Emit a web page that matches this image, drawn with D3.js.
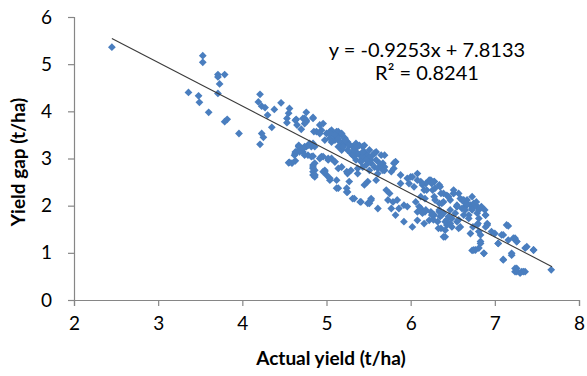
<!DOCTYPE html>
<html>
<head>
<meta charset="utf-8">
<script src="https://cdn.jsdelivr.net/npm/d3@7"></script>
<style>
  html, body { margin: 0; padding: 0; background: #fff; }
  svg { display: block; }
</style>
</head>
<body>
<svg id="chart" width="587" height="376"></svg>
<script>
// ---- data ----
const xTicks = [2, 3, 4, 5, 6, 7, 8];
const yTicks = [0, 1, 2, 3, 4, 5, 6];
const xLabel = "Actual yield (t/ha)";
const yLabel = "Yield gap (t/ha)";
const slope = -0.9253;
const intercept = 7.8133;
const trendRange = [2.45, 7.68];
const equationText = "y = -0.9253x + 7.8133";
const r2Text = "R² = 0.8241";

const actualYield = [
  2.45, 3.53, 3.53, 3.71, 3.71, 3.79, 3.73, 3.36, 3.48, 3.49, 3.71, 3.60, 3.79, 3.82,
  4.21, 4.19, 4.23, 4.27, 4.30, 4.46, 4.38, 4.35, 3.96, 4.21, 4.23, 4.25,
  4.56, 4.55, 4.53, 4.53, 4.64, 4.76, 4.74, 4.76, 4.74, 4.84, 4.70, 4.85,
  4.67, 4.63, 4.62, 4.76, 4.82, 4.84, 4.72, 4.56, 4.63, 4.70, 4.74,
  4.72, 4.76, 4.84, 4.63, 4.65, 4.92, 4.96, 4.88, 4.94, 4.92,
  5.04, 5.08, 5.14, 5.18, 5.04, 5.10, 5.16, 5.22, 5.20, 5.26,
  5.29, 5.33, 5.39, 5.35, 5.41, 5.45, 5.49, 5.47, 5.53, 5.43, 5.57, 5.51, 5.61, 5.59, 5.67, 5.65, 5.69,
  4.59, 4.63, 4.67, 4.72, 4.78, 4.84, 4.74, 4.82, 4.84, 4.86, 4.84, 4.94, 4.96, 5.00, 5.04,
  5.02, 5.06, 5.10, 5.14, 5.12, 5.14, 5.24, 5.25, 5.27, 5.33, 5.41, 5.49, 5.53, 5.61, 5.45,
  5.37, 5.25, 5.49, 5.59, 4.55, 4.86, 4.98, 5.04, 5.12, 5.24, 5.31, 5.40, 5.51,
  5.57, 5.65, 5.53, 5.63, 5.69, 5.61, 5.67, 5.82, 5.80, 5.77, 5.88, 5.96, 6.08, 6.00, 5.88,
  5.98, 6.04, 6.12, 6.18, 6.22, 6.28, 6.34, 6.16, 6.26, 6.36, 6.28, 6.43, 6.51, 6.47, 6.39,
  6.55, 6.61, 6.65,
  5.53, 5.71, 5.75, 5.73, 5.79, 5.84, 5.77, 5.86, 5.92, 5.96, 5.82, 5.92, 6.02, 6.08, 6.12,
  6.18, 6.24, 6.08, 6.16, 6.22, 6.28, 6.34, 6.39, 6.45, 6.32, 6.36, 6.43, 6.41, 6.55, 6.59,
  6.53, 6.63,
  6.34, 6.34, 6.37, 6.43, 6.41, 6.39, 6.49, 6.47, 6.55, 6.61, 6.65, 6.71, 6.73, 6.77, 6.79,
  6.69, 6.81, 6.89, 6.91, 6.79, 6.81, 6.83, 6.89, 6.96, 7.00, 7.04, 7.14, 7.08, 7.16, 7.22,
  7.26, 6.83, 6.77, 6.73, 6.87, 7.20, 7.10, 7.36, 7.46, 7.26, 7.24, 7.32, 7.36, 7.67,
  4.67, 4.84, 4.84, 4.86, 5.80, 5.82, 5.59, 5.69, 6.24, 6.28,
  6.51, 6.59, 6.67, 6.75, 6.79, 6.81, 6.89, 6.91, 6.71, 6.83, 6.81, 6.75, 6.87,
  7.16, 7.10, 7.04, 7.24, 7.26, 7.38, 7.46, 7.20, 7.10, 7.24, 7.26, 7.34, 7.30,
  5.00, 5.06, 5.12, 5.14, 5.18, 5.22, 5.25, 5.31, 5.35, 5.39, 5.43, 5.45, 5.49, 5.53, 5.43,
  5.37, 5.31, 5.25, 5.18, 5.14,
  6.02, 6.08, 6.14, 6.19, 6.25, 6.29, 6.35, 6.39, 6.45, 6.51, 6.57, 6.63, 6.67, 6.73, 6.78,
  6.84, 6.88, 6.73, 6.65, 6.55, 6.47, 6.37, 6.29, 6.17, 6.12, 6.06, 6.10, 6.17, 6.25, 6.35,
  6.41, 6.49, 6.57, 6.69, 6.74, 6.80, 6.57, 6.33, 6.27, 6.14,
  4.67, 4.72, 4.68, 4.63, 4.80, 4.86, 4.78, 4.98, 5.04, 5.10, 5.06, 5.14, 5.22, 5.20, 5.27,
  5.33, 5.37, 5.43, 5.45, 5.51, 5.57, 5.47, 5.41, 5.37, 5.29, 5.24, 5.18, 5.10, 5.02, 4.96,
  4.92, 4.86, 4.84, 4.86, 4.98
];

const yieldGap = [
  5.36, 5.18, 5.04, 4.78, 4.73, 4.78, 4.58, 4.40, 4.33, 4.19, 4.38, 3.98, 3.78, 3.83,
  4.36, 4.20, 4.11, 4.08, 3.92, 4.18, 4.04, 3.66, 3.53, 3.30, 3.53, 3.45,
  4.06, 3.96, 3.85, 3.76, 3.83, 3.98, 3.85, 3.81, 3.74, 3.85, 3.62, 3.57,
  3.26, 3.14, 3.07, 3.25, 3.25, 3.05, 3.14, 2.92, 2.95, 3.16, 3.25,
  3.85, 3.78, 3.87, 3.81, 3.71, 3.71, 3.74, 3.57, 3.60, 3.53,
  3.57, 3.50, 3.57, 3.50, 3.43, 3.39, 3.35, 3.39, 3.28, 3.32,
  3.11, 3.04, 3.08, 2.97, 2.97, 3.04, 2.97, 2.86, 2.90, 2.82, 2.82, 2.75, 2.79, 2.97, 2.90, 2.86, 2.75,
  2.90, 3.11, 3.25, 3.21, 3.28, 3.32, 3.07, 3.04, 2.86, 2.75, 2.65, 3.04, 2.72, 2.65, 2.54,
  2.97, 3.00, 2.93, 2.79, 2.54, 2.37, 2.37, 2.29, 2.51, 2.15, 2.08, 2.05, 2.15, 1.94, 2.44,
  2.68, 2.68, 2.51, 2.54, 2.91, 2.61, 2.72, 2.58, 2.37, 2.29, 2.15, 2.08, 2.05,
  3.11, 3.07, 2.97, 2.90, 2.82, 2.68, 2.75, 2.93, 2.79, 2.72, 2.65, 2.58, 2.68, 2.61, 2.47,
  2.47, 2.40, 2.51, 2.47, 2.54, 2.51, 2.44, 2.33, 2.33, 2.26, 2.19, 2.22, 2.26, 2.12, 2.08,
  2.01, 2.12, 1.98,
  2.12, 2.33, 2.26, 2.12, 2.08, 2.12, 1.94, 1.94, 2.01, 1.98, 1.80, 1.66, 1.55, 1.87, 1.94,
  1.91, 1.87, 1.69, 1.62, 1.69, 1.80, 1.87, 1.84, 1.77, 1.66, 1.52, 1.59, 1.34, 1.66, 1.55,
  1.84, 1.80,
  2.05, 1.91, 1.80, 1.70, 1.48, 1.34, 1.55, 1.62, 1.98, 1.94, 2.05, 2.01, 1.94, 2.01, 1.84,
  1.80, 1.73, 1.80, 1.62, 1.59, 1.45, 1.38, 1.55, 1.45, 1.41, 1.20, 1.59, 1.38, 1.27, 1.31,
  1.24, 1.24, 1.06, 1.05, 0.99, 0.95, 0.85, 1.10, 1.06, 0.67, 0.60, 0.60, 0.60, 0.64,
  3.18, 2.82, 2.72, 2.65, 2.90, 2.93, 3.14, 3.07, 2.54, 2.51,
  2.26, 2.15, 2.12, 2.05, 1.98, 1.91, 1.80, 1.59, 1.41, 1.20, 1.10, 1.06, 0.99,
  1.57, 1.38, 1.20, 1.31, 1.24, 1.13, 1.06, 0.99, 0.86, 0.67, 0.60, 0.60, 0.57,
  3.53, 3.60, 3.57, 3.50, 3.53, 3.43, 3.35, 3.25, 3.32, 3.28, 3.25, 3.14, 3.07, 3.04, 3.04,
  3.11, 3.07, 3.18, 3.18, 3.25,
  2.61, 2.54, 2.44, 2.33, 2.47, 2.37, 2.40, 2.26, 2.19, 2.33, 2.26, 2.12, 2.05, 2.19, 2.08,
  1.98, 1.91, 1.91, 1.91, 1.98, 1.91, 2.05, 2.12, 2.15, 2.19, 2.08, 1.98, 1.87, 1.80, 1.77,
  1.66, 1.73, 1.70, 1.73, 1.55, 1.62, 1.52, 1.52, 1.70, 1.84,
  3.28, 3.21, 3.14, 3.11, 3.32, 3.25, 3.07, 3.39, 3.53, 3.50, 3.35, 3.42, 3.39, 3.25, 3.28,
  3.18, 3.25, 3.14, 3.28, 3.18, 3.11, 2.97, 2.93, 2.79, 2.75, 2.72, 2.82, 2.93, 3.00, 3.04,
  3.00, 2.90, 2.79, 2.65, 2.75
];

// ---- layout ----
const svg = d3.select("#chart");
const x0 = 74, x1 = 579, yBottom = 300, yTop = 17;
const x = d3.scaleLinear().domain([2, 8]).range([x0, x1]);
const y = d3.scaleLinear().domain([0, 6]).range([yBottom, yTop]);
const axisColor = "#868686";
const font = "Lato, 'Open Sans', sans-serif";

// x axis
const gx = svg.append("g").attr("transform", `translate(0,${yBottom})`)
  .call(d3.axisBottom(x).tickValues(xTicks).tickSize(6).tickPadding(11).tickFormat(d3.format("d")));
// y axis
const gy = svg.append("g").attr("transform", `translate(${x0},0)`)
  .call(d3.axisLeft(y).tickValues(yTicks).tickSize(6).tickPadding(16).tickFormat(d3.format("d")));

[gx, gy].forEach(g => {
  g.select(".domain").attr("stroke", axisColor).attr("stroke-width", 1.2);
  g.selectAll(".tick line").attr("stroke", axisColor).attr("stroke-width", 1.2);
  g.selectAll(".tick text").attr("fill", "#000").style("font-family", font).style("font-size", "19px");
});

// points (diamonds)
const pts = actualYield.map((v, i) => [v, yieldGap[i]]);
const sq = 5.5;
svg.append("g").selectAll("rect").data(pts).join("rect")
  .attr("x", -sq / 2).attr("y", -sq / 2).attr("width", sq).attr("height", sq)
  .attr("transform", d => `translate(${x(d[0])},${y(d[1])}) rotate(45)`)
  .attr("fill", "#4A7EBF");

// trendline
svg.append("line")
  .attr("x1", x(trendRange[0])).attr("y1", y(slope * trendRange[0] + intercept))
  .attr("x2", x(trendRange[1])).attr("y2", y(slope * trendRange[1] + intercept))
  .attr("stroke", "#3a3a3a").attr("stroke-width", 1.1);

// equation
svg.append("text").attr("x", 427).attr("y", 57).attr("text-anchor", "middle")
  .style("font-family", font).style("font-size", "20px").attr("fill", "#000").text(equationText);
svg.append("text").attr("x", 427).attr("y", 80).attr("text-anchor", "middle")
  .style("font-family", font).style("font-size", "20px").attr("fill", "#000").text(r2Text);

// axis titles
svg.append("text").attr("x", 331).attr("y", 365).attr("text-anchor", "middle")
  .style("font-family", font).style("font-size", "19px").style("font-weight", "bold")
  .attr("fill", "#000").text(xLabel);
svg.append("text").attr("transform", "translate(25,162) rotate(-90)").attr("text-anchor", "middle")
  .style("font-family", font).style("font-size", "19px").style("font-weight", "bold")
  .attr("fill", "#000").text(yLabel);
</script>
</body>
</html>
